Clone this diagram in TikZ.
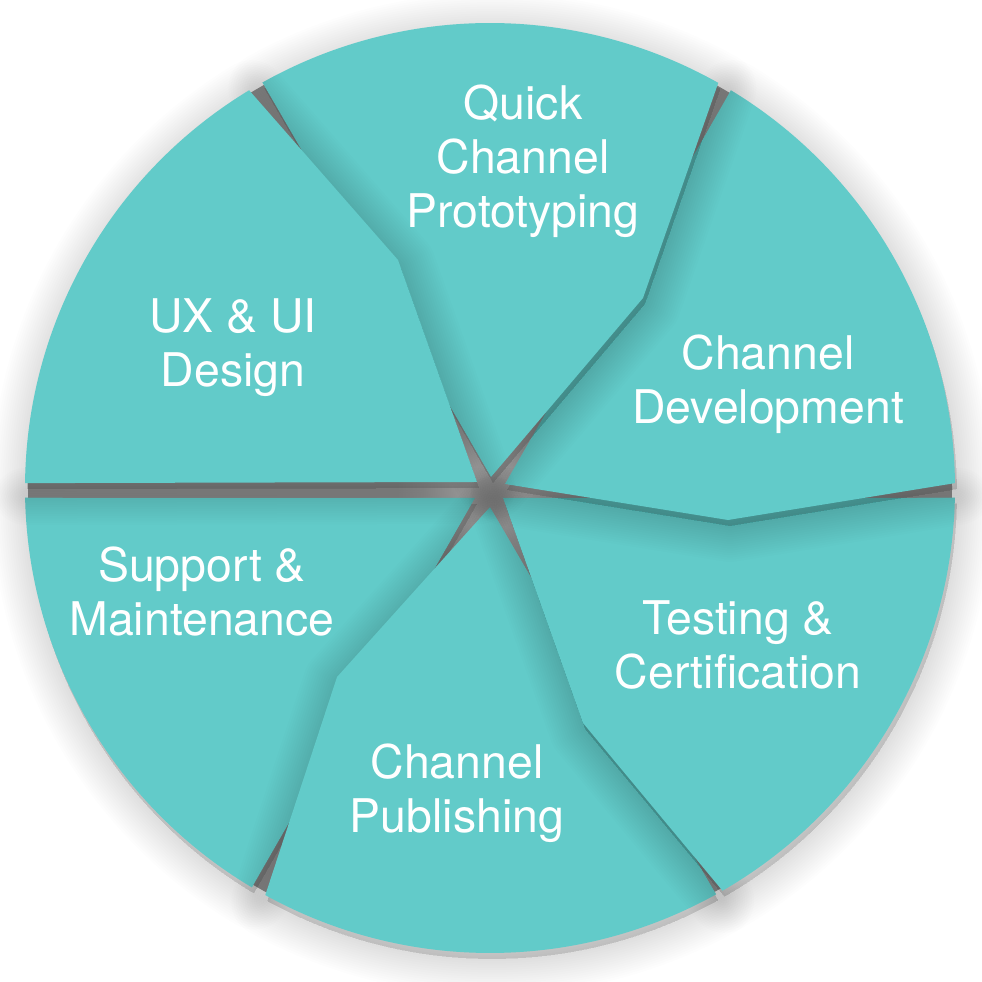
\documentclass[tikz,border=0pt]{standalone}
\usepackage{fontspec}
\setmainfont{TeX Gyre Heros}
\definecolor{tealc}{HTML}{62CBC9}
\definecolor{gapdark}{HTML}{A4A4A4}
\definecolor{gaplight}{HTML}{D8D8D8}
\pgfdeclareradialshading{bgshade}{\pgfpoint{0bp}{0bp}}{color(0bp)=(gaplight); color(5bp)=(gapdark); color(43bp)=(gapdark); color(50bp)=(white); color(70bp)=(white)}
\tikzset{
  piece/.style={fill=tealc},
  lbl/.style={text=white, align=center, inner sep=0pt, font=\fontsize{46.4}{54}\selectfont},
}
\def\pUX{(490,494) ++(179.4:465) arc[start angle=179.4, end angle=121.2, radius=465] -- (398,722) -- (477,500) -- cycle}
\def\pQ{(490,494) ++(119.3:465) arc[start angle=119.3, end angle=60.6, radius=465] -- (643,684) -- (491,505) -- cycle}
\def\pD{(490,494) ++(58.8:465) arc[start angle=58.8, end angle=0.6, radius=465] -- (728,462) -- (505,498) -- cycle}
\def\pT{(490,494) ++(-1.2:465) arc[start angle=-1.2, end angle=-60, radius=465] -- (583,259) -- (503,484) -- cycle}
\def\pP{(490,494) ++(241.1:465) arc[start angle=241.1, end angle=299.1, radius=465] -- (490,475) -- (337,305) -- cycle}
\def\pS{(490,494) ++(181.2:465) arc[start angle=181.2, end angle=239.2, radius=465] -- (475,484) -- cycle}
\newcommand\softshade[1]{%
  \foreach \k in {1,...,16}{%
    \path[draw=black, fill=black, opacity=0.008, line join=round, line width={(17-\k)*4.5pt}, shift={(2,-6)}] #1;
  }%
}
\begin{document}
\begin{tikzpicture}[x=1pt,y=1pt]
\useasboundingbox (0,0) rectangle (982,982);
\fill[white] (0,0) rectangle (982,982);
\path[shading=bgshade] (490,494) circle[radius=462];
\softshade{\pS}
\fill[piece] \pS;
\softshade{\pP}
\fill[piece] \pP;
\softshade{\pT}
\fill[piece] \pT;
\softshade{\pD}
\fill[piece] \pD;
\softshade{\pQ}
\fill[piece] \pQ;
\softshade{\pUX}
\fill[piece] \pUX;
\node[lbl] (ux) at (233,634) {UX \& UI\\Design};
\node[lbl] (qcp) at (523,821) {Quick\\Channel\\Prototyping};
\node[lbl] (dev) at (768,598) {Channel\\Development};
\node[lbl] (test) at (738,337) {Testing \&\\Certification};
\node[lbl] (pub) at (457,189) {Channel\\Publishing};
\node[lbl] (sup) at (202,390) {Support \&\\Maintenance};
\end{tikzpicture}
\end{document}
